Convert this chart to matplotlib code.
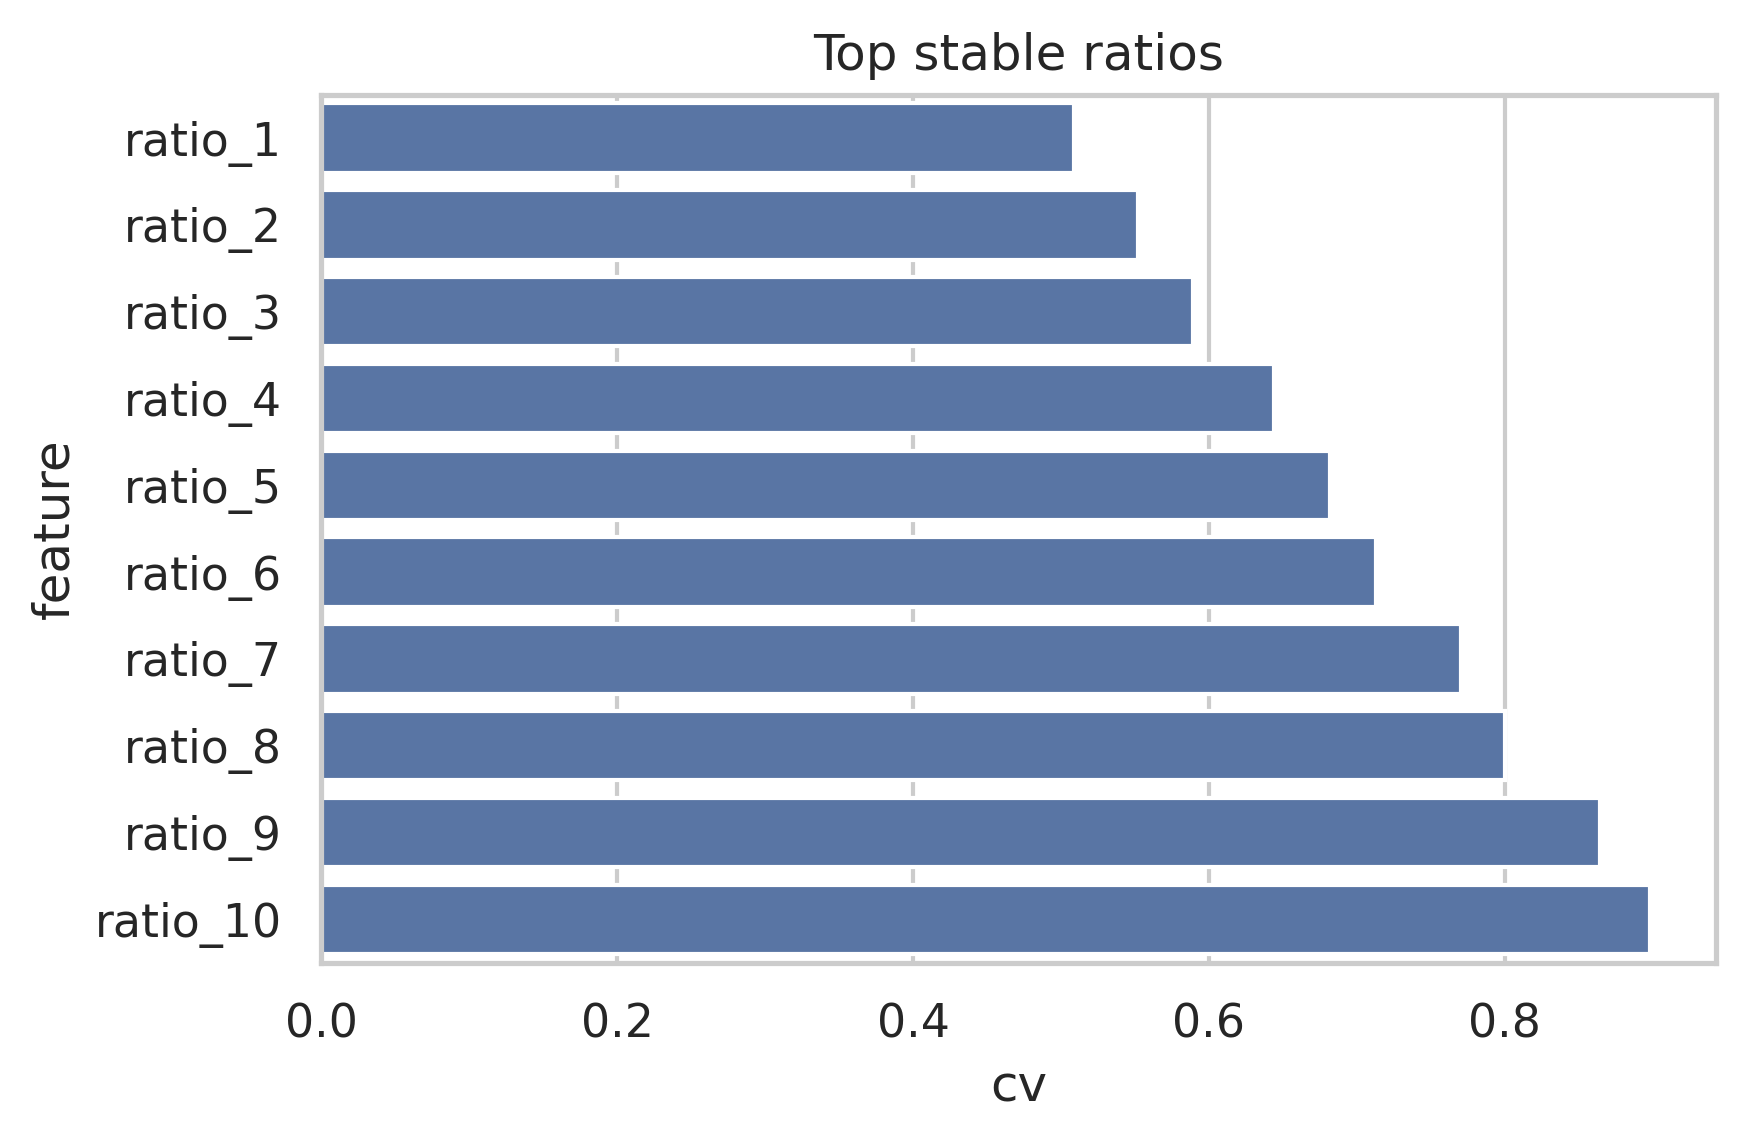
import pandas as pd
import matplotlib
matplotlib.use("Agg")
import matplotlib.pyplot as plt
import seaborn as sns

features = ["ratio_1", "ratio_2", "ratio_3", "ratio_4", "ratio_5",
            "ratio_6", "ratio_7", "ratio_8", "ratio_9", "ratio_10"]
cv = [0.509, 0.552, 0.589, 0.644, 0.682, 0.713, 0.770, 0.800, 0.864, 0.898]

df = pd.DataFrame({"feature": features, "cv": cv})

sns.set_theme(style="whitegrid")
fig, ax = plt.subplots(figsize=(5.82, 3.8067), dpi=300)
sns.barplot(data=df, x="cv", y="feature", color="#4c72b0", ax=ax)
ax.set_title("Top stable ratios")

fig.subplots_adjust(left=0.184, right=0.983, top=0.917, bottom=0.157)
fig.savefig("out.png", dpi=300)
